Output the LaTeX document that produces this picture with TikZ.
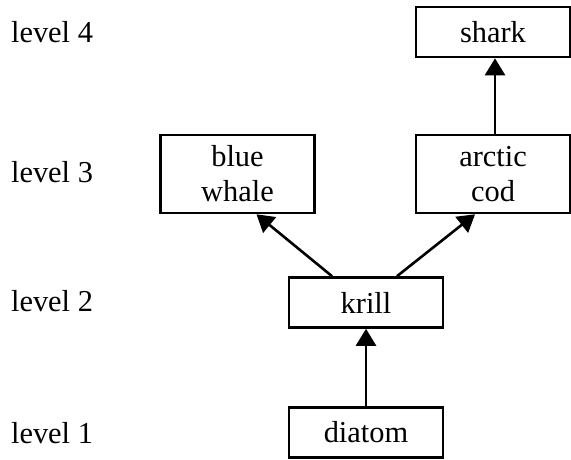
\documentclass[tikz,border=0pt]{standalone}
\usepackage{fontspec}
\setmainfont{Liberation Serif}
\usetikzlibrary{arrows.meta,calc}

\begin{document}
\begin{tikzpicture}[x=0.5pt,y=-0.5pt,
    font=\fontsize{15.2}{17.5}\selectfont,
    animal/.style={draw, line width=1.3pt, minimum width=77pt, minimum height=25pt,
                   align=center, inner sep=0pt},
    eats/.style={-{Triangle[length=8.5pt,width=10pt]}, line width=1.3pt}]
      \useasboundingbox (0,0) rectangle (571,459);
      % levels
      \node[anchor=west] (lv4) at (4, 32)    {level 4};
      \node[anchor=west] (lv3) at (4, 172)   {level 3};
      \node[anchor=west] (lv2) at (4, 301)   {level 2};
      \node[anchor=west] (lv1) at (4, 433)   {level 1};
      % food chain
      \node[animal] (shark)  at (493, 32)  {shark};
      \node[animal, minimum height=39pt] (cod)   at (493, 174)   {arctic\\cod};
      \node[animal, minimum height=39pt] (whale) at (237.5, 174) {blue\\whale};
      \node[animal] (krill)  at (366, 302.5) {krill};
      \node[animal] (diatom) at (366, 432.5) {diatom};
      \draw[eats] (diatom.north) -- (krill.south);
      \draw[eats] ($(krill.north)+(-34,0)$) -- ($(whale.south)+(19,0)$);
      \draw[eats] ($(krill.north)+(31,0)$) -- ($(cod.south)+(-18,0)$);
      \draw[eats] ($(cod.north)+(2,0)$) -- ($(shark.south)+(2,0)$);
\end{tikzpicture}
\end{document}
